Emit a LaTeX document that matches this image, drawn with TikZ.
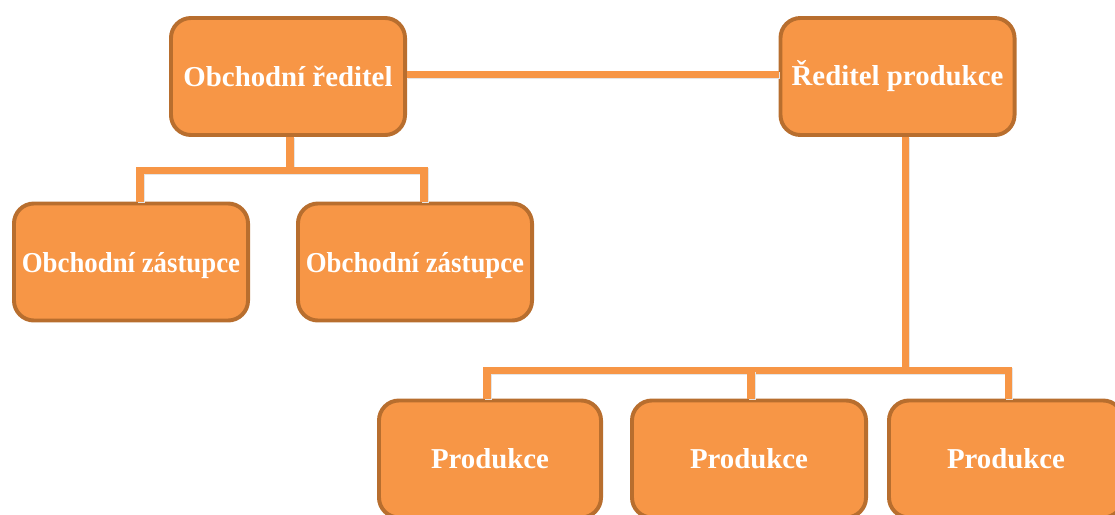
\documentclass[tikz,border=0pt]{standalone}
\usepackage{fontspec}
\setmainfont{Liberation Serif}
\definecolor{oranzova}{HTML}{F79646}
\definecolor{okraj}{HTML}{B86E2E}

\def\boxw{5.85cm}
\def\boxh{2.925cm}

\begin{document}
\begin{tikzpicture}[x=0.025cm,y=-0.025cm,
    pozice/.style={draw=okraj,fill=oranzova,line width=2.8pt,rounded corners=0.5cm,
    minimum width=\boxw,minimum height=\boxh,inner sep=0pt,text=white,
    font=\fontsize{20.5}{24}\selectfont\bfseries},
    vazba/.style={draw=oranzova,line width=5pt,
    preaction={draw=black!10,line width=5pt,transform canvas={shift={(0.03cm,-0.03cm)}}}}]

    \useasboundingbox (0,0) rectangle (1115,514);
    \clip (0,0) rectangle (1115,514);

    \node[pozice] (obch) at (288,76.5) {Obchodní ředitel};
    \node[pozice] (prod) at (897.5,76.5) {Ředitel produkce};
    \node[pozice,text depth=0pt] (zast1) at (131,262) {\scalebox{0.93}[1]{Obchodní zástupce}};
    \node[pozice,text depth=0pt] (zast2) at (415,262) {\scalebox{0.93}[1]{Obchodní zástupce}};
    \node[pozice,minimum width=5.55cm] (p1) at (490,459) {Produkce};
    \node[pozice] (p2) at (749,459) {Produkce};
    \node[pozice] (p3) at (1006,459) {Produkce};

    \draw[vazba] ([yshift=0.05cm]obch.east) -- ([yshift=0.05cm]prod.west);
    \draw[vazba] ([xshift=0.05cm]obch.south) -- ++(0,36);
    \draw[vazba] ([xshift=0.225cm]zast1.north) -- ++(0,-31) -| ([xshift=0.225cm]zast2.north);
    \draw[vazba] ([xshift=0.2cm]prod.south) -- ++(0,235);
    \draw[vazba] ([xshift=-0.075cm]p1.north) -- ++(0,-28) -| ([xshift=0.05cm]p3.north);
    \draw[vazba] ([xshift=0.05cm]p2.north) -- ++(0,-28);
\end{tikzpicture}
\end{document}
